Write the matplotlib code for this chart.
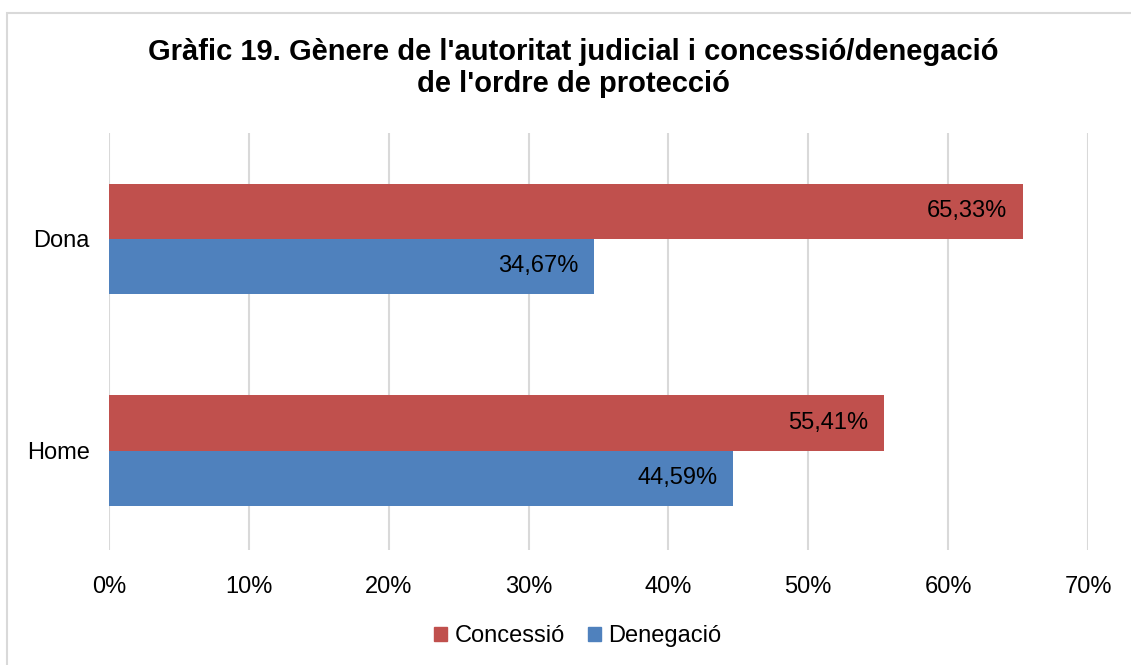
import matplotlib
matplotlib.use("Agg")
import matplotlib.pyplot as plt
from matplotlib.patches import Rectangle, Patch
import numpy as np

plt.rcParams["font.family"] = ["Liberation Sans", "DejaVu Sans"]

categories = ["Home", "Dona"]
concessio = [55.41, 65.33]
denegacio = [44.59, 34.67]
ticks = [0, 10, 20, 30, 40, 50, 60, 70]

red = "#C0504D"
blue = "#4F81BD"
fs = 17

fig = plt.figure(figsize=(11.31, 6.65), dpi=100)
ax = fig.add_axes([109 / 1131, 1 - 550 / 665, (1088 - 109) / 1131, (550 - 133) / 665])

# chart border
fig.patches.append(Rectangle((7 / 1131, -0.1), 1.2, 1 - 13 / 665 + 0.1,
                             transform=fig.transFigure, fill=False,
                             edgecolor="#D9D9D9", linewidth=1.5))

y = np.arange(len(categories))
h = 0.26
ax.barh(y + h / 2, concessio, height=h, color=red, label="Concessió", zorder=3)
ax.barh(y - h / 2, denegacio, height=h, color=blue, label="Denegació", zorder=3)

def fmt(v):
    return f"{v:.2f}%".replace(".", ",")

for yi, v in zip(y + h / 2, concessio):
    ax.text(v - 1.1, yi, fmt(v), ha="right", va="center", fontsize=fs, zorder=4)
for yi, v in zip(y - h / 2, denegacio):
    ax.text(v - 1.1, yi, fmt(v), ha="right", va="center", fontsize=fs, zorder=4)

ax.set_xlim(0, 70)
ax.set_ylim(-0.47, 1.5)
ax.set_xticks(ticks)
ax.set_xticklabels([f"{t}%" for t in ticks], fontsize=fs)
ax.set_yticks(y)
ax.set_yticklabels(categories, fontsize=fs)
ax.tick_params(axis="x", length=0, pad=19)
ax.tick_params(axis="y", length=0, pad=14)
ax.xaxis.grid(True, color="#D9D9D9", linewidth=1.5, zorder=0)
for s in ax.spines.values():
    s.set_visible(False)

fig.text(573 / 1131, 1 - 68 / 665,
         "Gràfic 19. Gènere de l'autoritat judicial i concessió/denegació\nde l'ordre de protecció",
         ha="center", va="center", fontsize=21, fontweight="bold", linespacing=1.2)

handles = [Patch(color=red, label="Concessió"), Patch(color=blue, label="Denegació")]
fig.legend(handles=handles, loc="center", bbox_to_anchor=(578 / 1131, 1 - 636 / 665),
           ncol=2, frameon=False, fontsize=fs, handlelength=0.55, handleheight=0.55,
           handletextpad=0.3, columnspacing=1.0)

fig.savefig("out.png", dpi=100)
